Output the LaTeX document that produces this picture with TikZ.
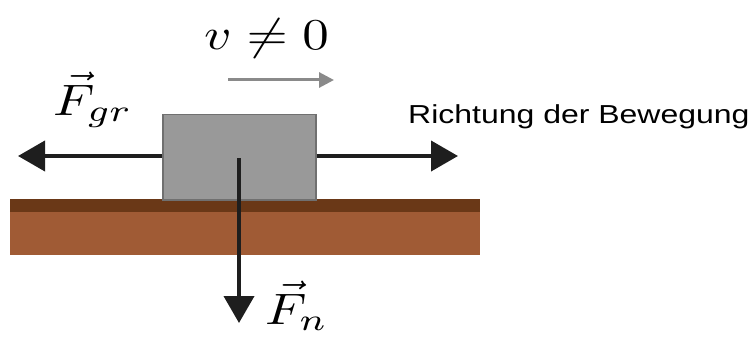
\documentclass[tikz,border=0pt]{standalone}
\usepackage{fontspec}
\usepackage{graphicx}
\newfontfamily\arialish{Liberation Sans}
\usetikzlibrary{arrows.meta}
\definecolor{boxgray}{HTML}{999999}
\definecolor{boxedge}{HTML}{707070}
\definecolor{darkbrown}{HTML}{6A3817}
\definecolor{lightbrown}{HTML}{A05B35}
\definecolor{forcecol}{HTML}{1E1E1E}
\definecolor{velcol}{HTML}{8A8A8A}
\tikzset{
  force/.style={draw=forcecol, line width=4pt, -{Triangle[length=27pt,width=30pt]}},
  velarrow/.style={draw=velcol, line width=3pt, -{Triangle[length=15pt,width=15pt]}},
  mathlabel/.style={inner sep=0pt, anchor=base west, font=\fontsize{10}{12}\selectfont},
  textlabel/.style={inner sep=0pt, anchor=base west, font=\arialish\fontsize{26}{30}\selectfont}
}
\newcommand{\bigmath}[1]{\scalebox{5.3}[4.4]{$#1$}}
\begin{document}
\begin{tikzpicture}[x=1pt,y=-1pt]
\useasboundingbox (0,0) rectangle (753,337);
% ground
\fill[lightbrown] (10,199) rectangle (480,255);
\fill[darkbrown] (10,199) rectangle (480,212);
% block
\node[draw=boxedge, fill=boxgray, line width=1.5pt, minimum width=153pt, minimum height=85pt, inner sep=0pt, anchor=north west] (block) at (162,114) {};
% force end points
\coordinate (lefttip) at (18,156);
\coordinate (righttip) at (458,156);
\coordinate (downstart) at (239,158);
\coordinate (downtip) at (239,323);
\coordinate (velstart) at (228,80);
\coordinate (veltip) at (334,80);
\draw[force] (block.west |- lefttip) -- (lefttip);
\draw[force] (block.east |- righttip) -- (righttip);
\draw[force] (downstart) -- (downtip);
\draw[velarrow] (velstart) -- (veltip);
% labels
\node[mathlabel] (vlabel) at (204,50) {\bigmath{v \neq 0}};
\node[mathlabel] (fgr) at (53,115) {\bigmath{\vec{F}_{gr}}};
\node[mathlabel] (fn) at (265,324) {\bigmath{\vec{F}_{n}}};
\node[textlabel] (richtung) at (408,124) {\scalebox{1.23}[1]{Richtung der Bewegung}};
\end{tikzpicture}
\end{document}
